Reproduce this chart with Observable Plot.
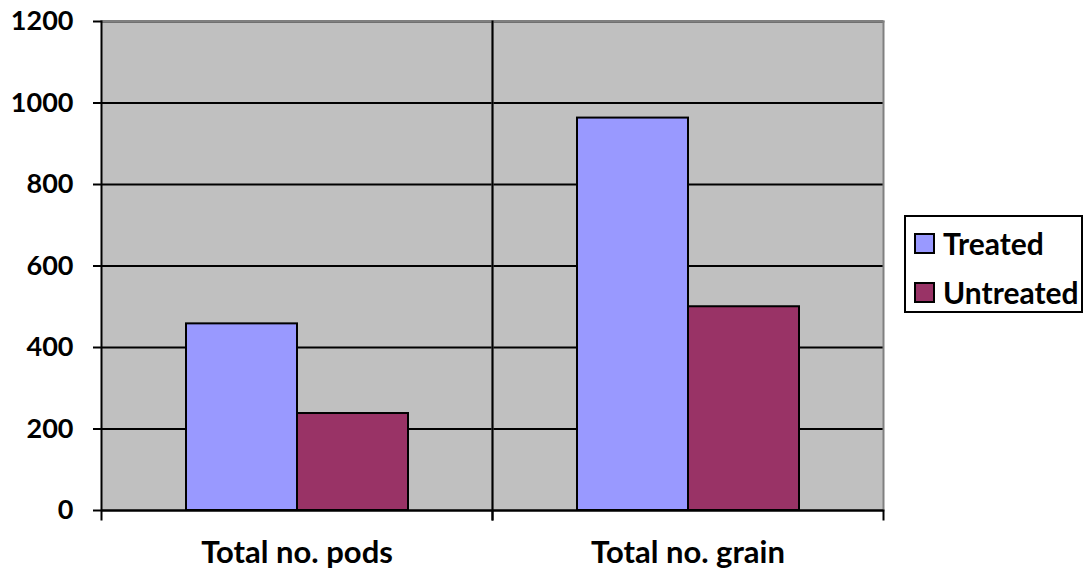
<!DOCTYPE html>
<html>
<head>
<meta charset="utf-8">
<script src="https://cdn.jsdelivr.net/npm/d3@7"></script>
<script src="https://cdn.jsdelivr.net/npm/@observablehq/plot@0.6"></script>
<style>
  body { margin: 0; background: #fff; }
  #chart { position: relative; width: 1086px; height: 579px; }
  #legend {
    position: absolute; left: 904px; top: 215px; width: 179px; height: 98px;
    border: 2px solid #000; background: #fff;
    font: bold 30px Lato, sans-serif; color: #000;
    display: flex; flex-direction: column; justify-content: flex-start; gap: 19px;
    padding: 11px 0 0 8px; box-sizing: border-box;
  }
  .item { display: flex; align-items: center; gap: 8px; line-height: 30px; height: 30px; }
  .swatch { width: 17px; height: 17px; border: 2px solid #000; flex: none; }
</style>
</head>
<body>
<div id="chart"></div>
<script>
// Crop counts per category, treated vs. untreated
const categories = ["Total no. pods", "Total no. grain"];
const series = ["Treated", "Untreated"];
const treated = [458, 963];
const untreated = [238, 500];
const colors = ["#9999FF", "#993366"];
const yTicks = [0, 200, 400, 600, 800, 1000, 1200];

const data = categories.flatMap((c, i) => [
  {category: c, series: series[0], value: treated[i]},
  {category: c, series: series[1], value: untreated[i]}
]);

const yFont = {fontFamily: "Lato, sans-serif", fontWeight: "bold", fontSize: 27};
const xFont = {fontFamily: "Lato, sans-serif", fontWeight: "bold", fontSize: 31};

const chart = Plot.plot({
  width: 1086,
  height: 579,
  marginLeft: 100,
  marginRight: 203,
  marginTop: 21,
  marginBottom: 69,
  style: {fontFamily: "Lato, sans-serif", fontWeight: "bold", fontSize: "26px", color: "black", background: "white"},
  fx: {domain: categories, padding: 0, label: null},
  x: {domain: series, paddingInner: 0, paddingOuter: 0.748, axis: null},
  y: {domain: [0, 1200], axis: null, label: null},
  color: {domain: series, range: colors},
  marks: [
    // grey plot background
    Plot.frame({fill: "#C0C0C0", stroke: "none"}),
    Plot.gridY(yTicks, {stroke: "black", strokeOpacity: 1, strokeWidth: 2}),
    Plot.barY(data, {fx: "category", x: "series", y: "value", fill: "series", stroke: "black", strokeWidth: 2, inset: 0}),
    // grey top and right border
    Plot.frame({anchor: "top", stroke: "#808080", strokeWidth: 2}),
    Plot.frame({anchor: "right", stroke: "#808080", strokeWidth: 2}),
    // category tick below the baseline on the right edge
    Plot.frame({anchor: "right", stroke: "black", strokeWidth: 2, insetTop: 489, insetBottom: -9}),
    // value axis line and category divider, with ticks below the baseline
    Plot.frame({anchor: "left", stroke: "black", strokeWidth: 2, insetBottom: -9}),
    Plot.ruleY([0], {stroke: "black", strokeWidth: 2}),
    Plot.axisY(yTicks, {tickSize: 8, tickPadding: 20, strokeWidth: 2, label: null, tickFormat: d => String(d), ...yFont}),
    Plot.axisFx({anchor: "bottom", tickSize: 0, tickPadding: 30, label: null, ...xFont})
  ]
});

const root = document.getElementById("chart");
root.appendChild(chart);

const legend = document.createElement("div");
legend.id = "legend";
series.forEach((s, i) => {
  const item = document.createElement("div");
  item.className = "item";
  const sw = document.createElement("span");
  sw.className = "swatch";
  sw.style.background = colors[i];
  const label = document.createElement("span");
  label.textContent = s;
  item.append(sw, label);
  legend.appendChild(item);
});
root.appendChild(legend);
</script>
</body>
</html>
